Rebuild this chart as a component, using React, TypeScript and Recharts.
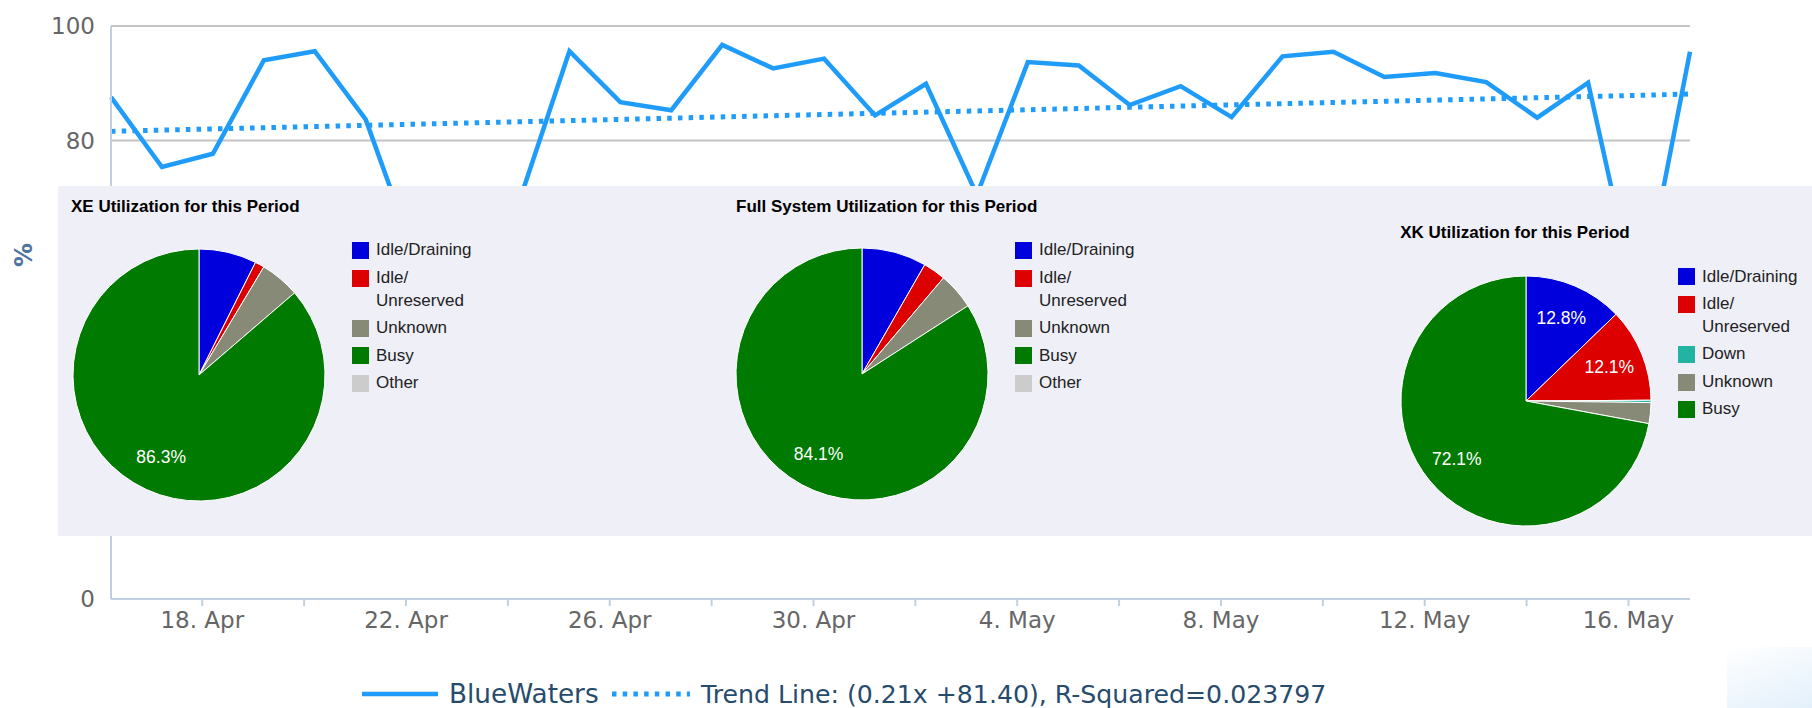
import React from "react";
import { LineChart, Line, XAxis, YAxis, CartesianGrid, PieChart, Pie, Cell } from "recharts";

// daily utilisation, 16 Apr - 17 May (points stamped 05:00 UTC)
const dates = [
  "04-16", "04-17", "04-18", "04-19", "04-20", "04-21", "04-22", "04-23",
  "04-24", "04-25", "04-26", "04-27", "04-28", "04-29", "04-30", "05-01",
  "05-02", "05-03", "05-04", "05-05", "05-06", "05-07", "05-08", "05-09",
  "05-10", "05-11", "05-12", "05-13", "05-14", "05-15", "05-16", "05-17",
];
const blueWaters = [
  87.6, 75.4, 77.7, 94.0, 95.6, 83.7, 59.0, 48.0,
  69.0, 95.6, 86.7, 85.3, 96.7, 92.6, 94.3, 84.4,
  89.9, 70.5, 93.7, 93.1, 86.2, 89.5, 84.1, 94.7,
  95.5, 91.1, 91.8, 90.2, 84.0, 90.1, 50.0, 95.5,
];
// trend line value at first and last point
const trendEnds = [81.61, 88.12];

const yTicks = [0, 20, 40, 60, 80, 100];
const xTickDates = [
  "04-18", "04-20", "04-22", "04-24", "04-26", "04-28", "04-30", "05-02",
  "05-04", "05-06", "05-08", "05-10", "05-12", "05-14", "05-16",
];
const xTickLabels = [
  "18. Apr", "", "22. Apr", "", "26. Apr", "", "30. Apr", "",
  "4. May", "", "8. May", "", "12. May", "", "16. May",
];

const seriesName = "BlueWaters";
const trendName = "Trend Line: (0.21x +81.40), R-Squared=0.023797";

// pie panels
const xeNames = ["Idle/Draining", "Idle/Unreserved", "Unknown", "Busy", "Other"];
const xeValues = [7.4, 1.2, 5.1, 86.3, 0];
const fullNames = ["Idle/Draining", "Idle/Unreserved", "Unknown", "Busy", "Other"];
const fullValues = [8.3, 2.9, 4.7, 84.1, 0];
const xkNames = ["Idle/Draining", "Idle/Unreserved", "Down", "Unknown", "Busy"];
const xkValues = [12.8, 12.1, 0.3, 2.7, 72.1];

const sliceColors: Record<string, string> = {
  "Idle/Draining": "#0000dc",
  "Idle/Unreserved": "#dc0000",
  Down: "#22b3a3",
  Unknown: "#888a78",
  Busy: "#007a00",
  Other: "#cccccc",
};

const DAY = 86400000;
const start = Date.UTC(2013, 3, 16);
const dayOf = (md: string) => {
  const [m, d] = md.split("-").map(Number);
  return (Date.UTC(2013, m - 1, d) - start) / DAY;
};
const HOUR_OFFSET = 5 / 24;

const rows = dates.map((d, i) => ({
  x: dayOf(d) + HOUR_OFFSET,
  bw: blueWaters[i],
  trend: i === 0 ? trendEnds[0] : i === dates.length - 1 ? trendEnds[1] : null,
}));
const xTicks = xTickDates.map(dayOf);
const xDomain = [rows[0].x, rows[rows.length - 1].x];

const LINE_COLOR = "#1f9cfa";
const HC_FONT = "'DejaVu Sans', sans-serif";
const GC_FONT = "'Liberation Sans', Arial, sans-serif";

const renderPct = () => (
  <text
    transform="translate(24 255) rotate(-90)"
    textAnchor="middle"
    dominantBaseline="central"
    fill="#4d759e"
    fontWeight="bold"
    fontSize={24}
    fontFamily={HC_FONT}
  >
    %
  </text>
);

const renderSliceLabel = (p: any) => {
  if (p.percent < 0.1) return null;
  const r = p.outerRadius * 0.72;
  const a = (-p.midAngle * Math.PI) / 180;
  return (
    <text
      x={p.cx + r * Math.cos(a)}
      y={p.cy + r * Math.sin(a)}
      fill="#ffffff"
      textAnchor="middle"
      dominantBaseline="central"
      fontSize={17.5}
      fontFamily={GC_FONT}
    >
      {(p.percent * 100).toFixed(1)}%
    </text>
  );
};

const UtilPie: React.FC<{
  title: string;
  names: string[];
  values: number[];
  left: number;
  width: number;
  cx: number;
  cy: number;
  r: number;
  titleX: number;
  titleY: number;
  titleCenter?: boolean;
  legendX: number;
  legendY: number;
}> = (p) => {
  const data = p.names.map((n, i) => ({ name: n, value: p.values[i] }));
  return (
    <>
      <div style={{ position: "absolute", left: p.left, top: 186 }}>
        <PieChart width={p.width} height={350} margin={{ top: 0, right: 0, bottom: 0, left: 0 }}>
          <Pie
            data={data}
            dataKey="value"
            cx={p.cx - p.left}
            cy={p.cy - 186}
            outerRadius={p.r}
            startAngle={90}
            endAngle={-270}
            stroke="#ffffff"
            strokeWidth={1}
            label={renderSliceLabel}
            labelLine={false}
            isAnimationActive={false}
          >
            {data.map((d, i) => (
              <Cell key={i} fill={sliceColors[d.name]} />
            ))}
          </Pie>
        </PieChart>
      </div>
      <div
        style={{
          position: "absolute",
          left: p.titleX,
          top: p.titleY - 10,
          lineHeight: "20px",
          fontFamily: GC_FONT,
          fontWeight: "bold",
          fontSize: 17,
          color: "#000",
          whiteSpace: "nowrap",
          transform: p.titleCenter ? "translateX(-50%)" : undefined,
        }}
      >
        {p.title}
      </div>
      <div
        style={{
          position: "absolute",
          left: p.legendX,
          top: p.legendY - 11.35,
          fontFamily: GC_FONT,
          fontSize: 17,
          color: "#222222",
        }}
      >
        {data.map((d, i) => (
          <div key={i} style={{ display: "flex", alignItems: "flex-start", marginBottom: 4.8 }}>
            <span
              style={{
                display: "inline-block",
                width: 17,
                height: 17,
                marginTop: 2.85,
                marginRight: 7,
                background: sliceColors[d.name],
                flex: "none",
              }}
            />
            <span style={{ lineHeight: "22.7px", width: 110, wordBreak: "break-word" }}>
              {d.name.replace("/", "/\u200b")}
            </span>
          </div>
        ))}
      </div>
    </>
  );
};

export default function App() {
  return (
    <div
      style={{
        position: "absolute",
        left: 0,
        top: 0,
        width: 1812,
        height: 708,
        overflow: "hidden",
        background: "#ffffff",
      }}
    >
      <LineChart
        width={1812}
        height={708}
        data={rows}
        margin={{ top: 26, right: 122, left: 0, bottom: 0 }}
      >
        <CartesianGrid vertical={false} stroke="#c4c4c4" strokeWidth={2} />
        <XAxis
          type="number"
          dataKey="x"
          domain={xDomain}
          ticks={xTicks}
          interval={0}
          height={109}
          tickFormatter={(v: number) => xTickLabels[xTicks.indexOf(v)] ?? ""}
          tick={{ fill: "#666666", fontSize: 23, fontFamily: HC_FONT }}
          tickLine={{ stroke: "#c0d0e0", strokeWidth: 2 }}
          tickSize={7}
          tickMargin={6}
          axisLine={{ stroke: "#c0d0e0", strokeWidth: 2 }}
        />
        <YAxis
          type="number"
          domain={[0, 100]}
          ticks={yTicks}
          interval={0}
          width={111}
          tick={{ fill: "#666666", fontSize: 23, fontFamily: HC_FONT }}
          tickLine={false}
          tickSize={0}
          tickMargin={16}
          axisLine={{ stroke: "#c0d0e0", strokeWidth: 2 }}
          label={{ value: "%", position: "insideLeft", content: renderPct }}
        />
        <Line
          dataKey="bw"
          name={seriesName}
          stroke={LINE_COLOR}
          strokeWidth={4.5}
          dot={false}
          activeDot={false}
          isAnimationActive={false}
        />
        <Line
          dataKey="trend"
          name={trendName}
          stroke={LINE_COLOR}
          strokeWidth={5}
          strokeDasharray="4.5 6.2"
          connectNulls
          dot={false}
          activeDot={false}
          isAnimationActive={false}
        />
      </LineChart>

      {/* utilisation panel laid over the line chart */}
      <div
        style={{
          position: "absolute",
          left: 58,
          top: 186,
          width: 1754,
          height: 350,
          background: "#efeff8",
        }}
      />
      <UtilPie
        title="XE Utilization for this Period"
        names={xeNames}
        values={xeValues}
        left={58}
        width={560}
        cx={199}
        cy={375}
        r={126}
        titleX={71}
        titleY={207}
        legendX={352}
        legendY={250.7}
      />
      <UtilPie
        title="Full System Utilization for this Period"
        names={fullNames}
        values={fullValues}
        left={618}
        width={600}
        cx={862}
        cy={374}
        r={126}
        titleX={736}
        titleY={207}
        legendX={1015}
        legendY={250.7}
      />
      <UtilPie
        title="XK Utilization for this Period"
        names={xkNames}
        values={xkValues}
        left={1218}
        width={594}
        cx={1526}
        cy={401}
        r={125}
        titleX={1515}
        titleY={233}
        titleCenter
        legendX={1678}
        legendY={277}
      />

      {/* bottom legend */}
      <svg
        width={1812}
        height={40}
        style={{ position: "absolute", left: 0, top: 674 }}
      >
        <line x1={362} x2={438} y1={20} y2={20} stroke={LINE_COLOR} strokeWidth={4.5} />
        <text x={449} y={20} dominantBaseline="central" fill="#274b6d" fontSize={26.3} fontFamily={HC_FONT}>
          {seriesName}
        </text>
        <line
          x1={612}
          x2={690}
          y1={20}
          y2={20}
          stroke={LINE_COLOR}
          strokeWidth={5}
          strokeDasharray="4.5 6.2"
        />
        <text x={701} y={20} dominantBaseline="central" fill="#274b6d" fontSize={25.2} fontFamily={HC_FONT}>
          {trendName}
        </text>
      </svg>

      <div
        style={{
          position: "absolute",
          left: 1727,
          top: 647,
          width: 85,
          height: 61,
          background: "linear-gradient(160deg, #ffffff 0%, #e3f0fb 100%)",
        }}
      />
    </div>
  );
}
